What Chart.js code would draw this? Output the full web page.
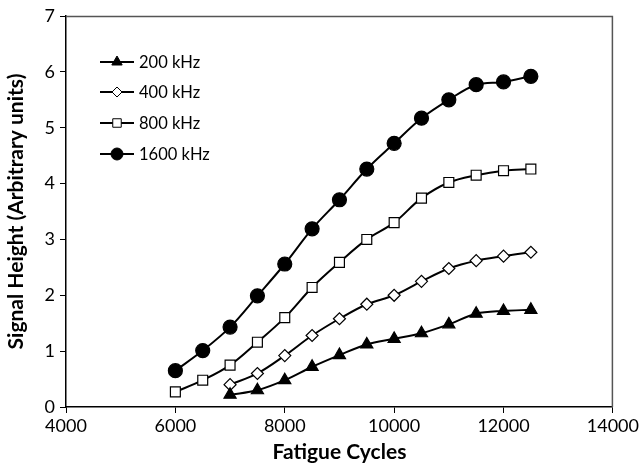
<!DOCTYPE html>
<html>
<head>
<meta charset="utf-8">
<script src="https://cdn.jsdelivr.net/npm/chart.js@4.4.1/dist/chart.umd.min.js"></script>
<style>
  html, body { margin: 0; padding: 0; background: #fff; }
  #wrap { width: 641px; height: 469px; }
</style>
</head>
<body>
<div id="wrap"><canvas id="myChart" width="641" height="469"></canvas></div>
<script>
// fatigue cycles for each series
const cyclesLow = [7000, 7500, 8000, 8500, 9000, 9500, 10000, 10500, 11000, 11500, 12000, 12500];
const cyclesHigh = [6000, 6500, 7000, 7500, 8000, 8500, 9000, 9500, 10000, 10500, 11000, 11500, 12000, 12500];

const sig200 = [0.22, 0.30, 0.48, 0.72, 0.93, 1.12, 1.22, 1.32, 1.48, 1.67, 1.72, 1.74];
const sig400 = [0.40, 0.60, 0.92, 1.28, 1.58, 1.84, 2.00, 2.25, 2.48, 2.62, 2.70, 2.77];
const sig800 = [0.27, 0.48, 0.75, 1.16, 1.60, 2.14, 2.59, 3.00, 3.30, 3.74, 4.02, 4.15, 4.23, 4.26];
const sig1600 = [0.65, 1.01, 1.43, 1.99, 2.56, 3.19, 3.71, 4.26, 4.72, 5.17, 5.50, 5.77, 5.82, 5.92];

const seriesLabels = ['200 kHz', '400 kHz', '800 kHz', '1600 kHz'];
const xTicks = [4000, 6000, 8000, 10000, 12000, 14000];
const yTicks = [0, 1, 2, 3, 4, 5, 6, 7];

const FONT = 'Lato, "Open Sans", sans-serif';

function pts(xs, ys) {
  return ys.map((v, i) => ({ x: xs[i], y: v }));
}

const markers = [
  { style: 'triangle', radius: 7, bg: '#000' },
  { style: 'rectRot', radius: 6, bg: '#fff' },
  { style: 'rect', radius: 7, bg: '#fff' },
  { style: 'circle', radius: 7, bg: '#000' }
];

const dataSets = [pts(cyclesLow, sig200), pts(cyclesLow, sig400), pts(cyclesHigh, sig800), pts(cyclesHigh, sig1600)];

// frame on top/right + custom legend inside plot
const framePlugin = {
  id: 'frame',
  afterDraw(chart) {
    const c = chart.ctx, a = chart.chartArea;
    c.save();
    c.strokeStyle = '#555';
    c.lineWidth = 1.5;
    c.beginPath();
    c.moveTo(a.left, a.top + 0.5);
    c.lineTo(a.right - 0.5, a.top + 0.5);
    c.lineTo(a.right - 0.5, a.bottom);
    c.stroke();

    // legend
    const rows = [62, 92, 123, 154];
    c.font = '16.5px ' + FONT;
    c.textBaseline = 'middle';
    c.fillStyle = '#000';
    rows.forEach((y, i) => {
      c.strokeStyle = '#000';
      c.lineWidth = 2;
      c.beginPath();
      c.moveTo(100, y);
      c.lineTo(134, y);
      c.stroke();
      const m = markers[i];
      c.lineWidth = 1;
      c.fillStyle = m.bg;
      Chart.helpers.drawPoint(c, { pointStyle: m.style, radius: m.style === 'rect' ? 6 : m.radius - 1, rotation: 0, borderWidth: 1 }, 117, y);
      c.fillStyle = '#000';
      c.fillText(seriesLabels[i], 139, y + 1);
    });
    c.restore();
  }
};

const ctx = document.getElementById('myChart').getContext('2d');
const myChart = new Chart(ctx, {
  type: 'line',
  data: {
    datasets: dataSets.map((d, i) => ({
      label: seriesLabels[i],
      data: d,
      borderColor: '#000',
      borderWidth: 2,
      tension: 0.35,
      pointStyle: markers[i].style,
      pointRadius: markers[i].radius,
      pointBackgroundColor: markers[i].bg,
      pointBorderColor: '#000',
      pointBorderWidth: 1.2,
      fill: false
    }))
  },
  options: {
    responsive: false,
    animation: false,
    layout: { padding: { top: 16, right: 23, left: 0, bottom: 0 } },
    plugins: {
      legend: { display: false },
      tooltip: { enabled: false }
    },
    scales: {
      x: {
        type: 'linear',
        min: 4000,
        max: 14000,
        afterBuildTicks: (s) => { s.ticks = xTicks.map(v => ({ value: v })); },
        afterFit: (s) => { s.height = 62; },
        grid: { drawOnChartArea: false, drawTicks: true, tickLength: 6, color: '#000', lineWidth: 1 },
        border: { color: '#000', width: 1.5 },
        ticks: { color: '#000', font: { family: FONT, size: 18 }, padding: 2, maxRotation: 0, callback: (v) => String(v) },
        title: { display: true, text: 'Fatigue Cycles', color: '#000', font: { family: FONT, size: 21, weight: 'bold' }, padding: { top: 8 } }
      },
      y: {
        min: 0,
        max: 7,
        afterBuildTicks: (s) => { s.ticks = yTicks.map(v => ({ value: v })); },
        afterFit: (s) => { s.width = 66; },
        grid: { drawOnChartArea: false, drawTicks: true, tickLength: 6, color: '#000', lineWidth: 1 },
        border: { color: '#000', width: 1.5 },
        ticks: { color: '#000', font: { family: FONT, size: 18 }, padding: 5, callback: (v) => String(v) },
        title: { display: true, text: 'Signal Height (Arbitrary units)', color: '#000', font: { family: FONT, size: 21, weight: 'bold' }, padding: { bottom: 8 } }
      }
    }
  },
  plugins: [framePlugin]
});
</script>
</body>
</html>
